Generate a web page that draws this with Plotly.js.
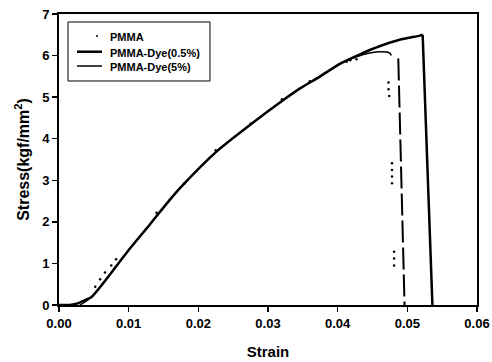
<!DOCTYPE html>
<html>
<head>
<meta charset="utf-8">
<script src="https://cdn.plot.ly/plotly-3.0.1.min.js"></script>
<style>html,body{margin:0;padding:0;background:#fff;}#chart{width:492px;height:362px;}</style>
</head>
<body>
<div id="chart"></div>
<script>
const seriesNames = ['PMMA', 'PMMA-Dye(0.5%)', 'PMMA-Dye(5%)'];
// PMMA (dotted data)
const pmmaStrain = [0.0052, 0.0059, 0.0066, 0.0075, 0.0082, 0.0140, 0.0180, 0.0225, 0.0275, 0.0320, 0.0360, 0.0413, 0.0418, 0.0427, 0.0473, 0.0473, 0.0474, 0.0478, 0.0478, 0.0478, 0.0478, 0.0481, 0.0481, 0.0481];
const pmmaStress = [0.44, 0.62, 0.78, 0.95, 1.10, 2.22, 2.92, 3.72, 4.36, 4.95, 5.38, 5.85, 5.89, 5.91, 5.35, 5.19, 5.03, 3.41, 3.25, 3.09, 2.93, 1.28, 1.12, 0.95];
// PMMA-Dye(0.5%)
const dye05Strain = [0.0000, 0.0015, 0.0025, 0.0035, 0.0047, 0.0083, 0.0099, 0.0131, 0.0159, 0.0178, 0.0226, 0.0274, 0.0322, 0.0346, 0.0375, 0.0403, 0.0432, 0.0461, 0.0489, 0.0518, 0.0522];
const dye05Stress = [0.00, 0.00, 0.03, 0.10, 0.20, 0.95, 1.30, 1.95, 2.53, 2.89, 3.69, 4.33, 4.93, 5.21, 5.50, 5.80, 6.03, 6.23, 6.38, 6.48, 6.50];
const dye05DropStrain = [0.0522, 0.0536];
const dye05DropStress = [6.50, 0.00];
// PMMA-Dye(5%)
const dye5Strain = [0.0030, 0.0038, 0.0047, 0.0083, 0.0099, 0.0131, 0.0159, 0.0178, 0.0226, 0.0274, 0.0322, 0.0346, 0.0375, 0.0403, 0.0427, 0.0446, 0.0461, 0.0475, 0.0477];
const dye5Stress = [0.00, 0.08, 0.20, 0.95, 1.30, 1.95, 2.53, 2.89, 3.69, 4.33, 4.93, 5.21, 5.50, 5.80, 5.97, 6.06, 6.09, 6.06, 6.00];
const dye5DropStrain = [0.0487, 0.0496];
const dye5DropStress = [5.93, 0.00];

const xTicks = [0, 0.01, 0.02, 0.03, 0.04, 0.05, 0.06];
const xTickText = ['0.00', '0.01', '0.02', '0.03', '0.04', '0.05', '0.06'];
const yTicks = [0, 1, 2, 3, 4, 5, 6, 7];

const font = {family: 'Liberation Sans, Arial, sans-serif', color: '#000'};
const f = (o) => Object.assign({}, font, o);

const traces = [
  {x: pmmaStrain, y: pmmaStress, name: seriesNames[0], mode: 'markers', type: 'scatter',
   marker: {color: '#000', size: 2.5, symbol: 'circle'}},
  {x: dye05Strain, y: dye05Stress, name: seriesNames[1], mode: 'lines', type: 'scatter',
   line: {color: '#000', width: 2.5, shape: 'spline', smoothing: 0.6}},
  {x: dye05DropStrain, y: dye05DropStress, name: seriesNames[1], mode: 'lines', type: 'scatter',
   line: {color: '#000', width: 2.5}},
  {x: dye5Strain, y: dye5Stress, name: seriesNames[2], mode: 'lines', type: 'scatter',
   line: {color: '#000', width: 1.5, shape: 'spline', smoothing: 0.6}},
  {x: dye5DropStrain, y: dye5DropStress, name: seriesNames[2], mode: 'lines', type: 'scatter',
   line: {color: '#000', width: 2, dash: '22px,5px'}}
];

// manual legend (paper coordinates)
const legRows = [0.9244, 0.8704, 0.8213];
const shapes = [
  {type: 'rect', xref: 'paper', yref: 'paper', x0: 0.0215, x1: 0.3612, y0: 0.7698, y1: 0.9725,
   line: {color: '#000', width: 1}, fillcolor: '#fff'},
  {type: 'circle', xref: 'paper', yref: 'paper', x0: 0.0885, x1: 0.0933, y0: legRows[0] - 0.0034, y1: legRows[0] + 0.0034,
   line: {color: '#000', width: 0}, fillcolor: '#000'},
  {type: 'line', xref: 'paper', yref: 'paper', x0: 0.0431, x1: 0.1029, y0: legRows[1], y1: legRows[1],
   line: {color: '#000', width: 2.5}},
  {type: 'line', xref: 'paper', yref: 'paper', x0: 0.0431, x1: 0.1029, y0: legRows[2], y1: legRows[2],
   line: {color: '#000', width: 1.5}}
];
const annotations = seriesNames.map((n, i) => ({
  text: n, xref: 'paper', yref: 'paper', x: 0.1172, y: legRows[i] - 0.004,
  xanchor: 'left', yanchor: 'middle', showarrow: false,
  font: f({size: 11, weight: 'bold'})
}));

const layout = {
  width: 492, height: 362,
  margin: {l: 59, r: 15, t: 14, b: 57},
  paper_bgcolor: '#fff', plot_bgcolor: '#fff',
  showlegend: false,
  shapes: shapes, annotations: annotations,
  xaxis: {range: [0, 0.06], tickvals: xTicks, ticktext: xTickText,
    showgrid: false, zeroline: false, showline: true, linecolor: '#000', linewidth: 2,
    mirror: true, ticks: 'outside', ticklen: 5, tickwidth: 1.5, tickcolor: '#000',
    tickfont: f({size: 13, weight: 'bold'}),
    title: {text: 'Strain', font: f({size: 15, weight: 'bold'}), standoff: 17}},
  yaxis: {range: [0, 7], tickvals: yTicks,
    showgrid: false, zeroline: false, showline: true, linecolor: '#000', linewidth: 2,
    mirror: true, ticks: 'outside', ticklen: 5, tickwidth: 1.5, tickcolor: '#000',
    tickfont: f({size: 13, weight: 'bold'}),
    title: {text: 'Stress(kgf/mm<sup>2</sup>)', font: f({size: 16, weight: 'bold'}), standoff: 9}}
};

Plotly.newPlot('chart', traces, layout, {displayModeBar: false, staticPlot: true});
</script>
</body>
</html>
